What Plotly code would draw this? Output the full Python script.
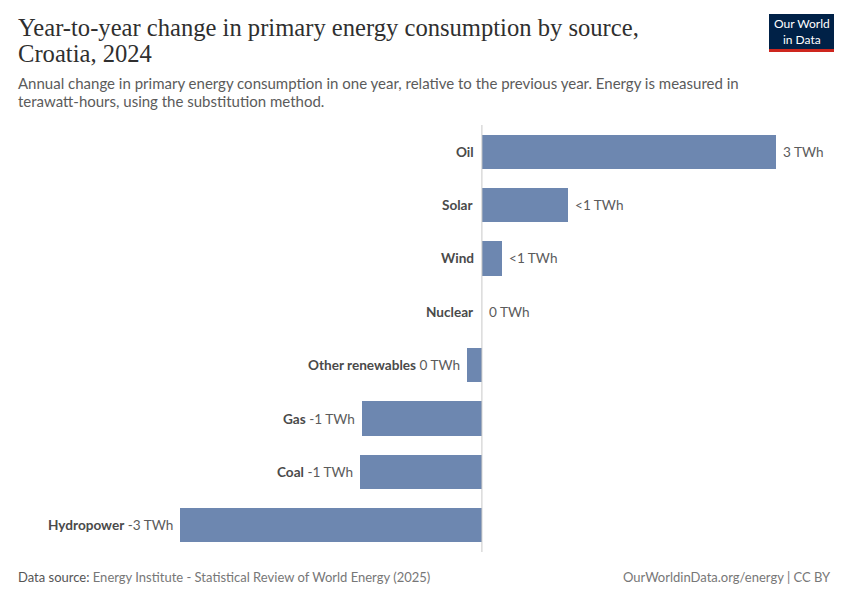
import plotly.graph_objects as go

# ---- data ----
sources = ["Oil", "Solar", "Wind", "Nuclear", "Other renewables", "Gas", "Coal", "Hydropower"]
change_twh = [3.0, 0.88, 0.20, 0.0, -0.15, -1.22, -1.24, -3.08]
value_labels = ["3 TWh", "<1 TWh", "<1 TWh", "0 TWh", "0 TWh", "-1 TWh", "-1 TWh", "-3 TWh"]

title_lines = ["Year-to-year change in primary energy consumption by source,", "Croatia, 2024"]
subtitle_lines = [
    "Annual change in primary energy consumption in one year, relative to the previous year. Energy is measured in",
    "terawatt-hours, using the substitution method.",
]
source_text = "Energy Institute - Statistical Review of World Energy (2025)"
credit_text = "OurWorldinData.org/energy | CC BY"

# ---- layout geometry (reference pixel coords; page has 8px body offset) ----
W, H = 850, 600
OFF = 8
PLOT_L, PLOT_R, PLOT_T, PLOT_B = 180, 776, 125, 552
L = PLOT_L - OFF
R = W - (PLOT_R - OFF)
T = PLOT_T - OFF
B = H - (PLOT_B - OFF)

def px_x(p):
    return (p - PLOT_L) / (PLOT_R - PLOT_L)

def px_y(p):
    return (PLOT_B - p) / (PLOT_B - PLOT_T)

BAR = "#6d87b0"
CAT_COLOR = "#4a4a4a"
VAL_COLOR = "#5b5b5b"
FONT = "Lato"
LSIZE = 13.6

fig = go.Figure()
fig.add_trace(go.Bar(
    x=change_twh, y=sources, orientation="h",
    marker=dict(color=BAR, line=dict(width=0)),
    width=0.64, hoverinfo="skip", showlegend=False,
))

annotations = []
for s, v, lab in zip(sources, change_twh, value_labels):
    if v >= 0:
        annotations.append(dict(x=0, y=s, xref="x", yref="y", text=f"<b>{s}</b>",
                                xanchor="right", xshift=-6, showarrow=False,
                                font=dict(family=FONT, size=LSIZE, color=CAT_COLOR)))
        annotations.append(dict(x=v, y=s, xref="x", yref="y", text=lab,
                                xanchor="left", xshift=5, showarrow=False,
                                font=dict(family=FONT, size=LSIZE, color=VAL_COLOR)))
    else:
        annotations.append(dict(x=v, y=s, xref="x", yref="y",
                                text=f"<b>{s}</b> <span style='color:{VAL_COLOR}'>{lab}</span>",
                                xanchor="right", xshift=-5, showarrow=False,
                                font=dict(family=FONT, size=LSIZE, color=CAT_COLOR)))

# title
for i, line in enumerate(title_lines):
    annotations.append(dict(x=px_x(16), y=px_y(28 + 25 * i), xref="paper", yref="paper",
                            text=line, xanchor="left", yanchor="middle", showarrow=False,
                            font=dict(family="Liberation Serif", size=24.6, color="#2f2f2f")))
# subtitle
for i, line in enumerate(subtitle_lines):
    annotations.append(dict(x=px_x(16), y=px_y(83 + 18 * i), xref="paper", yref="paper",
                            text=line, xanchor="left", yanchor="middle", showarrow=False,
                            font=dict(family=FONT, size=15, color="#5b5b5b")))
# footer
annotations.append(dict(x=px_x(16), y=px_y(577), xref="paper", yref="paper",
                        text=f"<span style='color:#555'>Data source:</span> {source_text}",
                        xanchor="left", yanchor="middle", showarrow=False,
                        font=dict(family=FONT, size=13, color="#777")))
annotations.append(dict(x=px_x(833), y=px_y(577), xref="paper", yref="paper",
                        text=credit_text, xanchor="right", yanchor="middle", showarrow=False,
                        font=dict(family=FONT, size=13, color="#777")))
# logo text
annotations.append(dict(x=px_x(801.5), y=px_y(31.5), xref="paper", yref="paper",
                        text="Our World<br>in Data", xanchor="center", yanchor="middle",
                        showarrow=False, align="center",
                        font=dict(family=FONT, size=12, color="white")))

shapes = [
    dict(type="rect", xref="paper", yref="paper", x0=px_x(769), x1=px_x(834),
         y0=px_y(49), y1=px_y(14), fillcolor="#002147", line=dict(width=0), layer="below"),
    dict(type="rect", xref="paper", yref="paper", x0=px_x(769), x1=px_x(834),
         y0=px_y(52), y1=px_y(49), fillcolor="#ce261e", line=dict(width=0), layer="below"),
    dict(type="line", xref="x", yref="paper", x0=0, x1=0, y0=0, y1=1,
         line=dict(color="#c8c8c8", width=1), layer="above"),
]

fig.update_layout(
    width=W, height=H,
    margin=dict(l=L, r=R, t=T, b=B, autoexpand=False),
    paper_bgcolor="white", plot_bgcolor="white",
    bargap=0,
    xaxis=dict(range=[min(change_twh), max(change_twh)], visible=False, fixedrange=True),
    yaxis=dict(categoryorder="array", categoryarray=sources[::-1], visible=False,
               range=[-0.5, len(sources) - 0.5]),
    annotations=annotations,
    shapes=shapes,
    font=dict(family=FONT),
)

fig.write_html("out.html")
